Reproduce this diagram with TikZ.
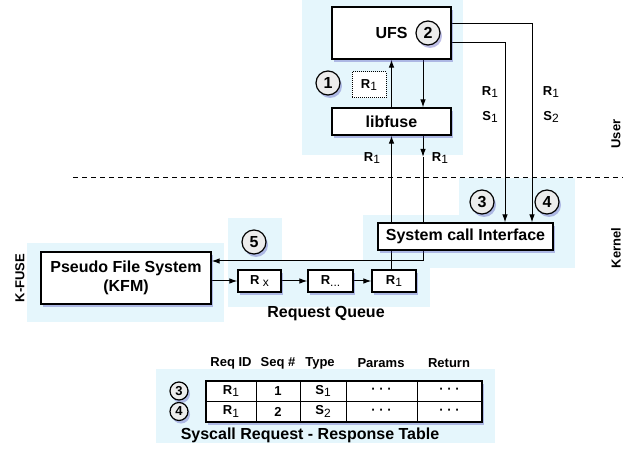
\documentclass[tikz,border=0pt]{standalone}
\usepackage{fontspec}
\setmainfont{Liberation Sans}
\usetikzlibrary{positioning, calc, arrows.meta, shadows}

\definecolor{bgblue}{RGB}{229,246,252}
\newcommand{\rsub}[1]{\raisebox{-.35ex}{\mdseries\fontsize{12}{14}\selectfont #1}}
\newcommand{\bigf}{\fontsize{16}{19}\selectfont\bfseries}
\newcommand{\smallf}{\fontsize{13}{15}\selectfont\bfseries}

\pgfdeclarelayer{bg}
\pgfdeclarelayer{lines}
\pgfsetlayers{bg,lines,main}

\tikzset{
  shade box/.style={drop shadow={fill=blue!45!gray, opacity=.35, shadow xshift=2pt, shadow yshift=-3pt}},
  box/.style={draw, line width=1.2pt, fill=white, font=\bigf, align=center, shade box},
  qbox/.style={box, minimum width=43pt, minimum height=22pt, font=\smallf},
  num/.style={circle, draw, line width=1.2pt, fill=gray!15, minimum size=24pt, inner sep=0pt, font=\bigf, shade box},
  lbl/.style={font=\smallf},
  arr/.style={-{Latex[length=8pt,width=5.5pt]}, line width=1pt},
}

\begin{document}
\begin{tikzpicture}[x=1pt, y=-1pt]
  \useasboundingbox (0,0) rectangle (629,454);

  % light blue areas
  \begin{pgfonlayer}{bg}
    \fill[bgblue] (302,0) rectangle (463,155);   %user
    \fill[bgblue] (459,178) rectangle (575,268); %syscall right
    \fill[bgblue] (363,215) rectangle (575,268); %syscall
    \fill[bgblue] (228,218) rectangle (282,262); %5
    \fill[bgblue] (228,260) rectangle (430,307); %queue
    \fill[bgblue] (27,243) rectangle (224,322);  %kfm
    \fill[bgblue] (156,369) rectangle (495,443); %table
  \end{pgfonlayer}

  % boxes
  \node[box, minimum width=119pt, minimum height=52pt] (ufs) at (391.5,33) {UFS};
  \node[box, minimum width=119pt, minimum height=27pt] (libfuse) at (391.5,121.5) {libfuse};
  \node[box, minimum width=175pt, minimum height=27pt] (sci) at (465.5,236.5) {System call Interface};
  \node[box, minimum width=170pt, minimum height=52pt] (kfm) at (126,278) {Pseudo File System\\(KFM)};
  \node[qbox] (rx) at (259.5,281) {R\rsub{ x}};
  \node[qbox, minimum width=45pt] (rdots) at (330.5,281) {R\rsub{...}};
  \node[qbox, minimum width=44pt] (rone) at (394,281) {R\rsub{1}};
  \node[draw, densely dotted, line width=1pt, fill=white, minimum width=34pt, minimum height=26pt, font=\smallf] (req) at (369,85) {R\rsub{1}};

  % numbers
  \node[num] (n1) at (328,83) {1};
  \node[num] (n2) at (428,33) {2};
  \node[num] (n3) at (482,202) {3};
  \node[num] (n4) at (547,202) {4};
  \node[num] (n5) at (254,242) {5};

  % connectors
  \coordinate (s1) at (505,43);
  \coordinate (s2) at (532,24);
  \coordinate (dn) at (423,157);
  \coordinate (ret) at (423,261);
  \begin{pgfonlayer}{lines}
    \draw[arr] (libfuse.north) -- (ufs.south);
    \draw[arr] (ufs.south -| dn) -- (libfuse.north -| dn);
    \draw[arr] (libfuse.south -| dn) -- (dn);
    \draw[arr] (dn) -- (ret) -- (kfm.east |- ret);
    \draw[arr] (libfuse.south |- rone.north) -- (libfuse.south);
    \draw[arr] (ufs.east |- s1) -- (s1) -- (sci.north -| s1);
    \draw[arr] (ufs.east |- s2) -- (s2) -- (sci.north -| s2);
    \draw[arr] (kfm.east |- rx) -- (rx.west);
    \draw[arr] (rx) -- (rdots);
    \draw[arr] (rdots) -- (rone);
  \end{pgfonlayer}

  % user / kernel
  \coordinate (dl) at (73,178);
  \coordinate (dr) at (623,178);
  \draw[line width=1pt, dash pattern=on 5pt off 4pt] (dl) -- (dr);

  % labels
  \node[lbl] (l1) at (372,158) {R\rsub{1}};
  \node[lbl] (l2) at (440,158) {R\rsub{1}};
  \node[lbl] (l3) at (490,92) {R\rsub{1}};
  \node[lbl] (l4) at (490,117) {S\rsub{1}};
  \node[lbl] (l5) at (551,92) {R\rsub{1}};
  \node[lbl] (l6) at (551,117) {S\rsub{2}};
  \node[font=\bigf] (rq) at (326,314) {Request Queue};
  \node[lbl, rotate=90] (kfuse) at (20,278) {K-FUSE};
  \node[lbl, rotate=90] (user) at (616,134) {User};
  \node[lbl, rotate=90] (kern) at (616,248) {Kernel};

  % table
  \coordinate (tl) at (206,381);
  \coordinate (br) at (482,422);
  \fill[white, shade box] (tl) rectangle (br);
  \foreach \x in {256,300,346,417}
    \draw[line width=1pt] (\x,381) -- (\x,422);
  \draw[line width=1pt] (206,401) -- (482,401);
  \draw[line width=1.2pt] (tl) rectangle (br);
  \foreach \x/\t [count=\i] in {231/Req ID, 278/Seq \#, 320/Type, 381/Params, 449/Return}
    \node[lbl] (h\i) at (\x,363) {\t};
  \foreach \x/\t [count=\i] in {231/R\rsub{1}, 278/1, 323/S\rsub{1}, 381.5/· · ·, 449.5/· · ·}
    \node[lbl] (a\i) at (\x,391) {\t};
  \foreach \x/\t [count=\i] in {231/R\rsub{1}, 278/2, 323/S\rsub{2}, 381.5/· · ·, 449.5/· · ·}
    \node[lbl] (b\i) at (\x,411.5) {\t};
  \node[num, minimum size=18pt, font=\smallf] (t3) at (179,391) {3};
  \node[num, minimum size=18pt, font=\smallf] (t4) at (179,411.5) {4};
  \node[font=\bigf] (ttl) at (310,435) {Syscall Request - Response Table};
\end{tikzpicture}
\end{document}
